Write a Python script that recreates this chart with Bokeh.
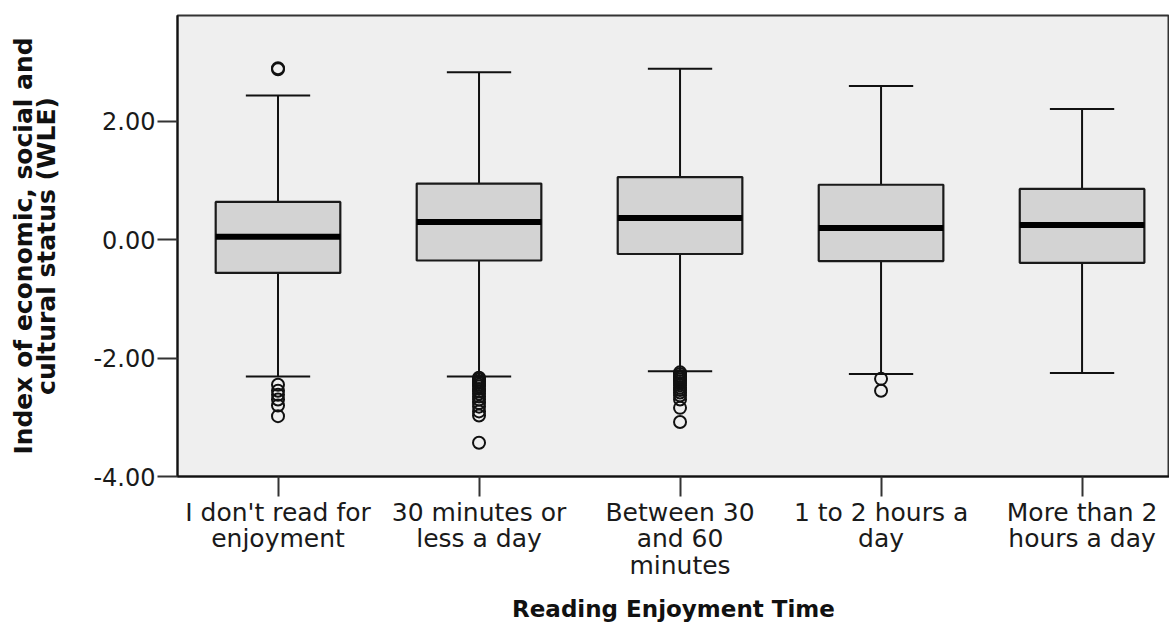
from bokeh.plotting import figure
from bokeh.models import Range1d, FixedTicker
from bokeh.embed import file_html
from bokeh.resources import INLINE
import numpy as np

# ---- data ----
categories = ["I don't read for\nenjoyment", "30 minutes or\nless a day",
              "Between 30\nand 60\nminutes", "1 to 2 hours a\nday",
              "More than 2\nhours a day"]
q1 = [-0.56, -0.35, -0.24, -0.36, -0.39]
median = [0.05, 0.30, 0.37, 0.20, 0.25]
q3 = [0.64, 0.95, 1.06, 0.93, 0.86]
lower_whisker = [-2.31, -2.31, -2.22, -2.27, -2.25]
upper_whisker = [2.44, 2.83, 2.89, 2.60, 2.21]

outliers = {
    0: [2.88, 2.90, -2.45, -2.55, -2.62, -2.70, -2.80, -2.98],
    1: [-2.33, -2.36, -2.39, -2.42, -2.45, -2.48, -2.52, -2.56, -2.60,
        -2.65, -2.70, -2.76, -2.82, -2.90, -2.97, -3.43],
    2: [-2.24, -2.27, -2.30, -2.33, -2.36, -2.39, -2.42, -2.46, -2.50,
        -2.54, -2.58, -2.63, -2.70, -2.84, -3.08],
    3: [-2.35, -2.55],
    4: [],
}

y_ticks = [-4, -2, 0, 2]
y_tick_labels = ["-4.00", "-2.00", "0.00", "2.00"]

# ---- build ----
xs = np.arange(len(categories), dtype=float)
box_w = 0.62
cap_w = 0.32

p = figure(width=1169, height=624, output_backend="svg", toolbar_location=None,
           x_range=Range1d(-0.5, 4.435), y_range=Range1d(-4, 3.79))
p.min_border_left = 177
p.min_border_top = 15
p.min_border_right = 0
p.min_border_bottom = 147

p.background_fill_color = "#EFEFEF"
p.border_fill_color = "white"
p.outline_line_color = "#333333"
p.outline_line_width = 2
p.grid.visible = False

FONT = "DejaVu Sans"

# whiskers
p.segment(x0=xs, y0=q3, x1=xs, y1=upper_whisker, line_color="#111111", line_width=2)
p.segment(x0=xs, y0=q1, x1=xs, y1=lower_whisker, line_color="#111111", line_width=2)
p.segment(x0=xs - cap_w / 2, y0=upper_whisker, x1=xs + cap_w / 2, y1=upper_whisker,
          line_color="#111111", line_width=2)
p.segment(x0=xs - cap_w / 2, y0=lower_whisker, x1=xs + cap_w / 2, y1=lower_whisker,
          line_color="#111111", line_width=2)

# boxes
p.vbar(x=xs, width=box_w, top=q3, bottom=q1, fill_color="#D3D3D3",
       line_color="#1a1a1a", line_width=2.2)
# medians
p.segment(x0=xs - box_w / 2, y0=median, x1=xs + box_w / 2, y1=median,
          line_color="black", line_width=6)

# outliers
ox, oy = [], []
for k, vals in outliers.items():
    ox += [xs[k]] * len(vals)
    oy += vals
p.scatter(x=ox, y=oy, marker="circle", size=12, fill_color=None,
          line_color="#111111", line_width=2)

# axes
p.yaxis.ticker = FixedTicker(ticks=y_ticks)
p.yaxis.major_label_overrides = {t: l for t, l in zip(y_ticks, y_tick_labels)}
p.xaxis.ticker = FixedTicker(ticks=list(xs))
overrides = {float(x): c for x, c in zip(xs, categories)}
overrides.update({int(x): c for x, c in zip(xs, categories)})
p.xaxis.major_label_overrides = overrides

for ax in (p.xaxis[0], p.yaxis[0]):
    ax.axis_line_color = "#111111"
    ax.axis_line_width = 2
    ax.major_tick_line_color = "#333333"
    ax.major_tick_line_width = 2
    ax.major_tick_out = 20
    ax.major_tick_in = 0
    ax.minor_tick_line_color = None
    ax.major_label_text_font = FONT
    ax.major_label_text_color = "#1a1a1a"
    ax.axis_label_text_font = FONT
    ax.axis_label_text_font_style = "bold"
    ax.axis_label_text_color = "#111111"

p.yaxis.major_label_text_font_size = "24px"
p.yaxis.major_label_standoff = 2
p.yaxis.axis_label = "Index of economic, social and\ncultural status (WLE)"
p.yaxis.axis_label_text_font_size = "25px"
p.yaxis.axis_label_text_line_height = 0.8
p.yaxis.axis_label_standoff = 29

p.xaxis.major_label_text_font_size = "25px"
p.xaxis.major_label_text_line_height = 0.92
p.xaxis.major_label_standoff = 1
p.xaxis.axis_label = "Reading Enjoyment Time"
p.xaxis.axis_label_text_font_size = "23px"
p.xaxis.axis_label_standoff = 13

open("out.html", "w").write(file_html(p, INLINE))
